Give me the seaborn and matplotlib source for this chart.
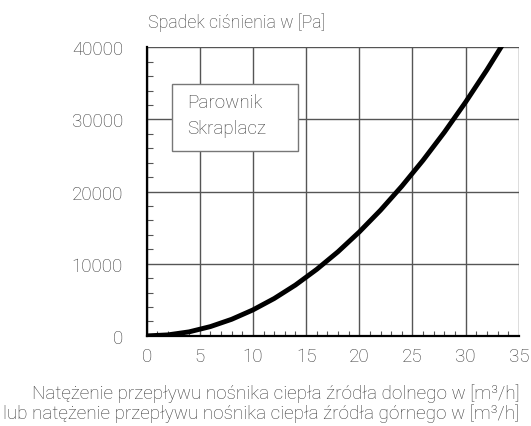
import numpy as np
import pandas as pd
import seaborn as sns
import matplotlib.pyplot as plt
from matplotlib.patches import Rectangle
from matplotlib.ticker import MultipleLocator

# flow rate [m3/h] vs pressure drop [Pa]
flow = [0, 2, 4, 6, 8, 10, 12, 14, 16, 18, 20, 22, 24, 26, 28, 30, 32, 34]
drop = [0, 140, 560, 1290, 2300, 3600, 5180, 7050, 9220, 11660, 14400,
        17420, 20740, 24340, 28220, 32400, 36860, 41600]
series = ["Parownik", "Skraplacz"]

x_ticks = [0, 5, 10, 15, 20, 25, 30, 35]
y_ticks = [0, 10000, 20000, 30000, 40000]

df = pd.DataFrame({"flow": flow, "drop": drop})

sns.set_style("white")
plt.rcParams["font.family"] = ["Roboto", "DejaVu Sans"]
plt.rcParams["font.weight"] = "light"
txt = "#3a3a3a"

fig = plt.figure(figsize=(5.31, 4.27), dpi=100)
ax = fig.add_axes([0.276, 0.211, 0.701, 0.676])

sns.lineplot(data=df, x="flow", y="drop", color="black", lw=3.5, ax=ax,
             solid_capstyle="butt")

ax.set_xlim(0, 35)
ax.set_ylim(0, 40000)
ax.set_xticks(x_ticks)
ax.set_yticks(y_ticks)
ax.xaxis.set_minor_locator(MultipleLocator(1))
ax.yaxis.set_minor_locator(MultipleLocator(2000))
ax.grid(True, which="major", color="#555555", lw=1.0)
ax.tick_params(axis="x", which="major", length=0, pad=8, labelsize=13.5, labelcolor=txt)
ax.tick_params(axis="y", which="major", direction="out", length=5, width=1,
               color="#555555", pad=12, labelsize=13.5, labelcolor=txt)
ax.tick_params(axis="x", which="minor", direction="in", length=3.5, width=0.8,
               color="#555555", bottom=True)
ax.tick_params(axis="y", which="minor", direction="in", length=4.5, width=0.8,
               color="#555555", left=True)

for s in ["top", "right"]:
    ax.spines[s].set_visible(False)
for s in ["left", "bottom"]:
    ax.spines[s].set_color("black")
    ax.spines[s].set_linewidth(1.6)

ax.set_xlabel("")
ax.set_ylabel("")
fig.text(0.278, 0.947, "Spadek ciśnienia w [Pa]", ha="left", va="center",
         fontsize=12.8, color=txt)
fig.text(0.978, 0.055, "Natężenie przepływu nośnika ciepła źródła dolnego w [m³/h]\n"
         "lub natężenie przepływu nośnika ciepła źródła górnego w [m³/h]",
         ha="right", va="center", fontsize=13.6, color=txt, linespacing=1.12)

# legend box with the two series names
ax.add_patch(Rectangle((0.068, 0.641), 0.338, 0.230, transform=ax.transAxes,
                       facecolor="white", edgecolor="#777777", lw=1.0, zorder=5))
for name, yy in zip(series, [0.811, 0.721]):
    ax.text(0.108, yy, name, transform=ax.transAxes, ha="left", va="center",
            fontsize=13.5, color=txt, zorder=6)

fig.savefig("out.png", dpi=100)
